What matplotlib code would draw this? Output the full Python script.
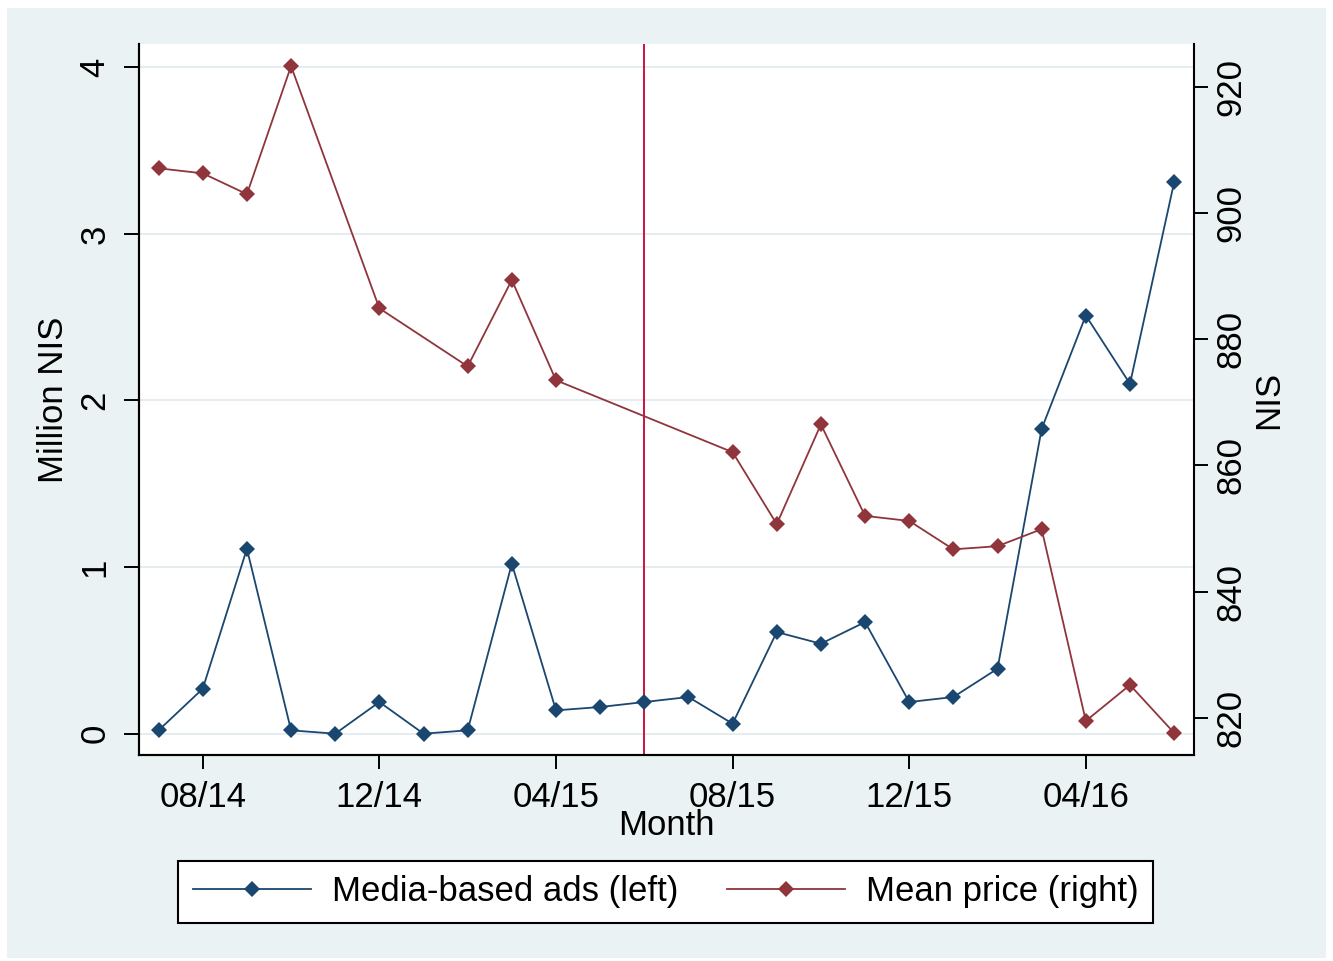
import numpy as np
import matplotlib
matplotlib.use('Agg')
import matplotlib.pyplot as plt
from matplotlib.patches import Rectangle
from matplotlib.lines import Line2D

plt.rcParams['font.family'] = ['Liberation Sans', 'DejaVu Sans']

# ---- data ----
months = ['07/14', '08/14', '09/14', '10/14', '11/14', '12/14',
          '01/15', '02/15', '03/15', '04/15', '05/15', '06/15',
          '07/15', '08/15', '09/15', '10/15', '11/15', '12/15',
          '01/16', '02/16', '03/16', '04/16', '05/16', '06/16']
ads = [0.02, 0.27, 1.11, 0.02, 0.00, 0.19,
       0.00, 0.02, 1.02, 0.14, 0.16, 0.19,
       0.22, 0.06, 0.61, 0.54, 0.67, 0.19,
       0.22, 0.39, 1.83, 2.51, 2.10, 3.31]
price = [907.1, 906.3, 903.0, 923.3, np.nan, 884.9,
         np.nan, 875.7, 889.4, 873.5, np.nan, np.nan,
         np.nan, 862.1, 850.7, 866.5, 852.0, 851.2,
         846.7, 847.2, 849.9, 819.5, 825.2, 817.6]
xtick_labels = ['08/14', '12/14', '04/15', '08/15', '12/15', '04/16']
left_ticks = [0, 1, 2, 3, 4]
right_ticks = [820, 840, 860, 880, 900, 920]
event_month = '06/15'
series_labels = ['Media-based ads (left)', 'Mean price (right)']

NAVY = '#1A476F'
MAROON = '#90353B'
BG = '#EAF2F3'
FS = 25

W, H = 1333, 961
fig = plt.figure(figsize=(W / 100, H / 100), dpi=100)
fig.patch.set_facecolor('white')
fig.add_artist(Rectangle((7 / W, (H - 958) / H), (1326 - 7) / W, (958 - 8) / H,
                         transform=fig.transFigure, facecolor=BG,
                         edgecolor='none', zorder=0))

ax = fig.add_axes([139 / W, (H - 755) / H, (1194 - 139) / W, (755 - 44) / H])
ax.set_facecolor('white')
ax2 = ax.twinx()

x = np.arange(len(months))
ads_a = np.array(ads, dtype=float)
price_a = np.array(price, dtype=float)
m = ~np.isnan(price_a)

ax.yaxis.grid(True, color='#E3ECEF', lw=1.3)
ax.set_axisbelow(True)

ax.axvline(months.index(event_month), color='#CE1141', lw=1.4, zorder=1)
ax.plot(x, ads_a, color=NAVY, lw=1.3, marker='D', markersize=8,
        markeredgewidth=0, zorder=3)
ax2.plot(x[m], price_a[m], color=MAROON, lw=1.3, marker='D', markersize=8,
         markeredgewidth=0, zorder=3)

ax.set_xlim(-0.444, 23.45)
ax.set_ylim(-0.128, 4.14)
ax2.set_ylim(814.1, 926.8)

ax.set_xticks([months.index(l) for l in xtick_labels])
ax.set_xticklabels(xtick_labels)
ax.set_yticks(left_ticks)
ax.set_yticklabels([str(t) for t in left_ticks])
ax2.set_yticks(right_ticks)
ax2.set_yticklabels([str(t) for t in right_ticks])

for a in (ax, ax2):
    a.spines['top'].set_visible(False)
    for s in a.spines.values():
        s.set_linewidth(1.5)
        s.set_color('black')
ax.spines['right'].set_visible(False)

ax.tick_params(axis='x', length=10, width=1.4, pad=9, labelsize=FS)
ax.tick_params(axis='y', length=11, width=1.4, pad=9, labelsize=FS,
               labelrotation=90)
ax2.tick_params(axis='y', length=10, width=1.4, pad=5, labelsize=FS,
                labelrotation=90)
for lbl in ax.get_yticklabels() + ax2.get_yticklabels():
    lbl.set_va('center')

ax.set_xlabel('Month', fontsize=FS, labelpad=-4)
ax.set_ylabel('Million NIS', fontsize=FS, labelpad=6)
ax2.set_ylabel('NIS', fontsize=FS, labelpad=3, rotation=90)

handles = [Line2D([], [], color=NAVY, lw=1.3, marker='D', markersize=8,
                  markeredgewidth=0),
           Line2D([], [], color=MAROON, lw=1.3, marker='D', markersize=8,
                  markeredgewidth=0)]
leg = fig.legend(handles, series_labels, loc='center',
                 bbox_to_anchor=(665.5 / W, (H - 892) / H), ncol=2,
                 frameon=True, fancybox=False, edgecolor='black',
                 facecolor='white', framealpha=1, fontsize=FS,
                 handlelength=3.4, handletextpad=0.6, columnspacing=1.4,
                 borderpad=0.42, borderaxespad=0)
leg.get_frame().set_linewidth(1.5)

fig.savefig('out.png', dpi=100, facecolor=fig.get_facecolor())
